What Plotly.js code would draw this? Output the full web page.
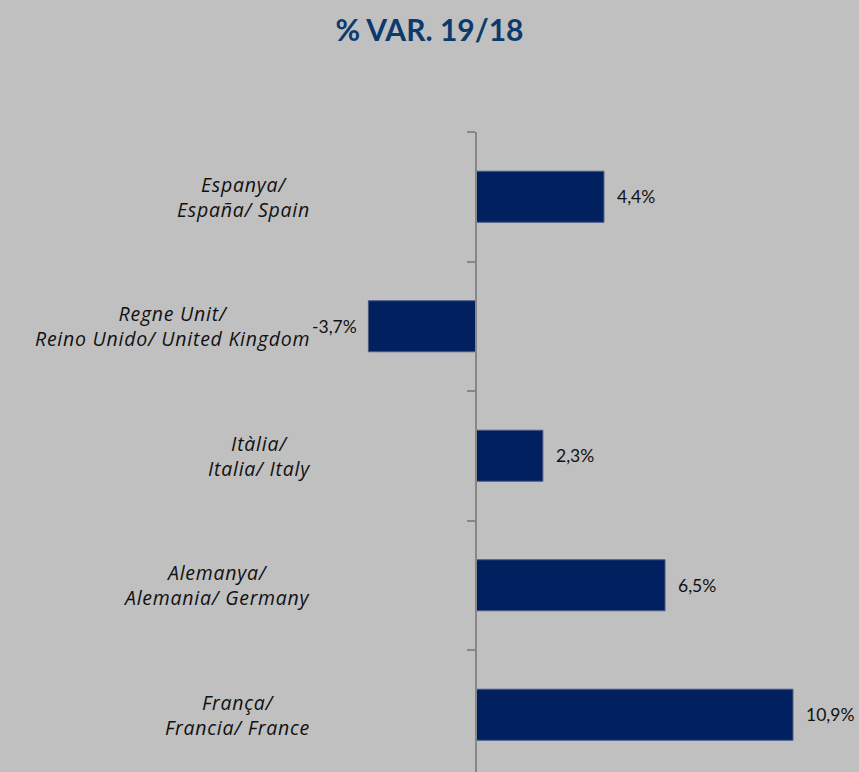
<!DOCTYPE html>
<html>
<head>
<meta charset="utf-8">
<script src="https://cdn.plot.ly/plotly-3.0.1.min.js"></script>
<style>html,body{margin:0;padding:0;background:#c0c0c0;}#chart{width:859px;height:772px;}
text.annotation-text[data-unformatted*="/"]{letter-spacing:0.75px;}</style>
</head>
<body>
<div id="chart"></div>
<script>
var categories = ["Espanya/<br>España/ Spain", "Regne Unit/<br>Reino Unido/ United Kingdom", "Itàlia/<br>Italia/ Italy", "Alemanya/<br>Alemania/ Germany", "França/<br>Francia/ France"];
var catKeys = ["ES", "UK", "IT", "DE", "FR"];
var values = [4.4, -3.7, 2.3, 6.5, 10.9];
var valueLabels = ["4,4%", "-3,7%", "2,3%", "6,5%", "10,9%"];

var W = 859, H = 772, top_ = 132;
var axisPx = 476, pxPerUnit = 29.08, catPx = 129.5;
var xr = [-axisPx / pxPerUnit, (W - axisPx) / pxPerUnit];
var yBottom = (H - top_) / catPx - 0.5;

var trace = {
  type: 'bar', orientation: 'h',
  x: values, y: catKeys,
  marker: {color: '#002060', line: {color: '#4a5a82', width: 1}},
  width: 0.394,
  hoverinfo: 'none'
};

var annotations = [];
categories.forEach(function (c, i) {
  annotations.push({
    x: 312 / W, xref: 'paper', y: catKeys[i], yref: 'y',
    text: c, showarrow: false, xanchor: 'right', align: 'center', yanchor: 'middle',
    font: {family: 'Open Sans', size: 19.5, color: '#111111', style: 'italic'}
  });
});
values.forEach(function (v, i) {
  annotations.push({
    x: v, xref: 'x', y: catKeys[i], yref: 'y',
    text: valueLabels[i], showarrow: false,
    xanchor: v >= 0 ? 'left' : 'right', xshift: v >= 0 ? 11 : -9,
    yanchor: 'middle',
    font: {family: 'Lato', size: 17.5, color: '#111111'}
  });
});

var layout = {
  width: W, height: H,
  paper_bgcolor: '#c0c0c0', plot_bgcolor: '#c0c0c0',
  margin: {l: 0, r: 0, t: top_, b: 0, pad: 0},
  showlegend: false,
  title: {text: '<b>% VAR. 19/18</b>', x: 0.5, xanchor: 'center', y: 1 - 30 / H, yanchor: 'middle',
          font: {family: 'Lato', size: 30, color: '#0d3a6c'}},
  xaxis: {range: xr, showgrid: false, zeroline: false, showline: false, showticklabels: false, ticks: '', fixedrange: true},
  yaxis: {type: 'category', categoryarray: catKeys, range: [yBottom, -0.5], anchor: 'free', position: axisPx / W,
          showline: true, linecolor: '#878787', linewidth: 2, ticks: 'outside', tickson: 'boundaries',
          ticklen: 8, tickcolor: '#878787', tickwidth: 2, showticklabels: false, showgrid: false, zeroline: false},
  annotations: annotations
};

Plotly.newPlot('chart', [trace], layout, {displayModeBar: false, staticPlot: true});
</script>
</body>
</html>
